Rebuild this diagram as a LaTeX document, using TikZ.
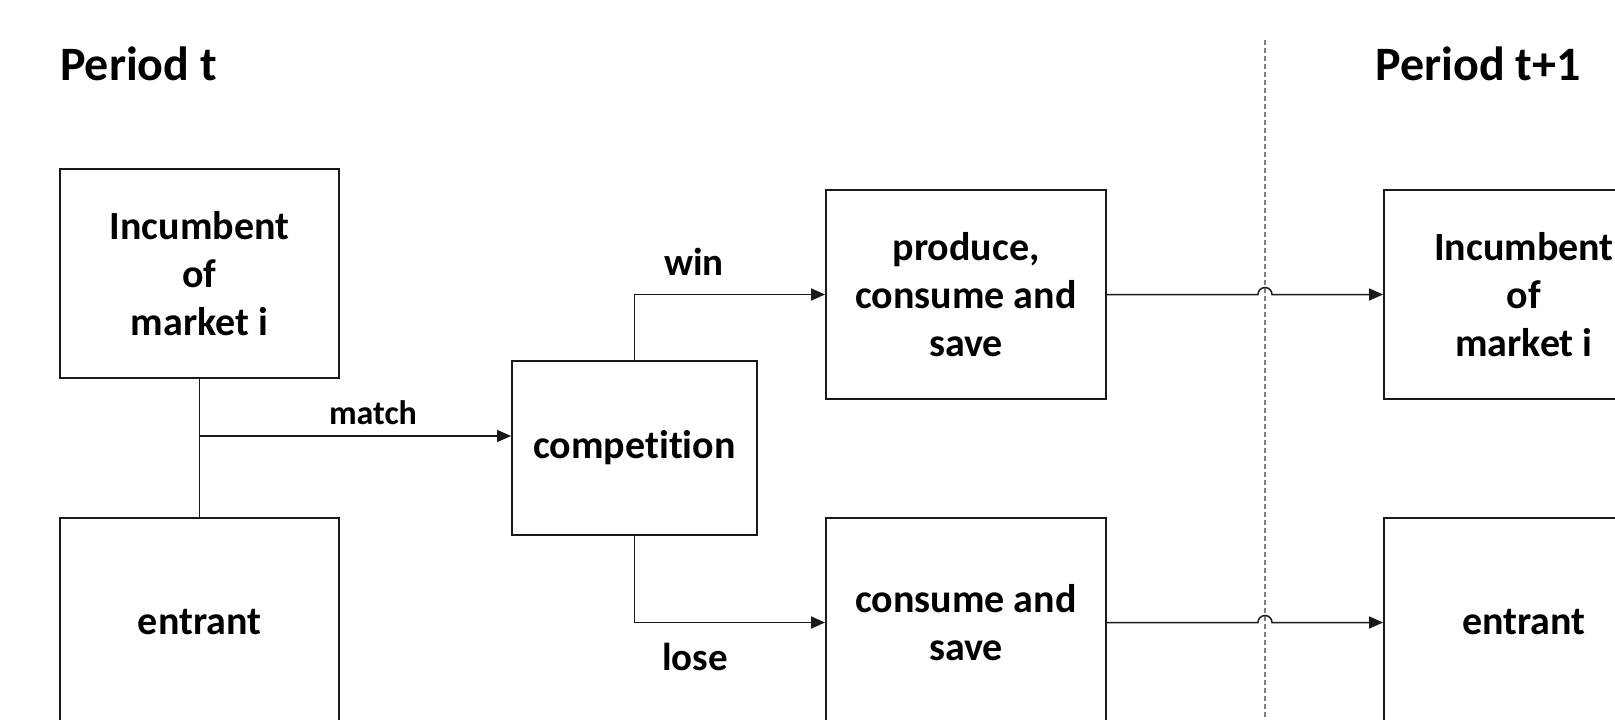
\documentclass[tikz,border=0pt]{standalone}
\usepackage{fontspec}
\setmainfont{Carlito}[Ligatures=NoCommon]
\usetikzlibrary{arrows.meta,calc}
\tikzset{
  box/.style={draw=black!90, line width=1.9pt, rectangle, align=center, inner sep=0pt,
    font=\fontsize{40}{48}\selectfont\bfseries},
  conn/.style={draw=black!90, line width=1.5pt},
  arr/.style={conn, -{Triangle[length=14pt,width=12pt]}},
  lbl/.style={font=\fontsize{34}{40}\selectfont\bfseries, inner sep=0pt},
  biglbl/.style={font=\fontsize{39}{44}\selectfont\bfseries, inner sep=0pt},
  ptitle/.style={font=\fontsize{48}{56}\selectfont\bfseries, inner sep=0pt},
  divider/.style={draw=black!50, line width=1.3pt, dash pattern=on 5pt off 3pt}
}
\begin{document}
\begin{tikzpicture}[x=1pt,y=1pt]
\useasboundingbox (0,0) rectangle (1615,-720);
\clip (0,0) rectangle (1615,-720);
\fill[white] (0,0) rectangle (1615,-720);
% titles
\node[ptitle, anchor=west] (pt) at (60,-64) {Period t};
\node[ptitle, anchor=east] (pt1) at (1581,-64) {Period t+1};
% boxes
\node[box, minimum width=279pt, minimum height=209pt] (incT) at (199.5,-273.5) {Incumbent\\of\\market i};
\node[box, minimum width=279pt, minimum height=209pt] (entT) at (199.5,-622.5) {entrant};
\node[box, minimum width=245pt, minimum height=174pt] (comp) at (634.5,-448) {competition};
\node[box, minimum width=280pt, minimum height=209pt] (prod) at (966,-294.5) {produce,\\consume and\\save};
\node[box, minimum width=280pt, minimum height=209pt] (cons) at (966,-622.5) {consume and\\save};
\node[box, minimum width=280pt, minimum height=209pt] (incN) at (1524,-294.5) {Incumbent\\of\\market i};
\node[box, minimum width=280pt, minimum height=209pt] (entN) at (1524,-622.5) {entrant};
% divider
\coordinate (dtop) at (1265,-40);
\coordinate (dbot) at (1265,-720);
\draw[divider] (dtop) -- (dbot);
% match
\draw[conn] (incT.south) -- (entT.north);
\coordinate (m) at (199.5,-436);
\draw[arr] (m) -- (m -| comp.west);
\node[lbl] (lmatch) at (373,-413) {match};
% win / lose
\draw[arr] (comp.north) |- (prod.west);
\draw[arr] (comp.south) |- (cons.west);
\node[biglbl] (lwin) at (694,-262) {win};
\node[biglbl] (llose) at (695,-657) {lose};
% to next period with hops
\draw[arr] (prod.east) -- ($(prod.east -| dtop)+(-7,0)$) arc[start angle=180,end angle=0,radius=7] -- (incN.west);
\draw[arr] (cons.east) -- ($(cons.east -| dtop)+(-7,0)$) arc[start angle=180,end angle=0,radius=7] -- (entN.west);
\end{tikzpicture}
\end{document}
